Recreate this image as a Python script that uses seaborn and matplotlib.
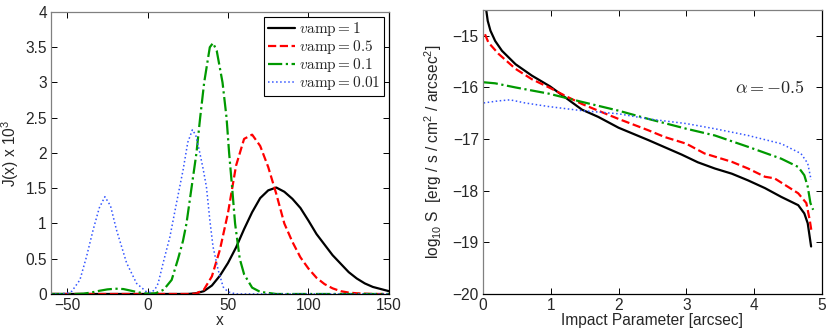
import numpy as np
import pandas as pd
import seaborn as sns
import matplotlib.pyplot as plt
from matplotlib.ticker import FormatStrFormatter

sns.set_theme(style = "ticks")
plt.rcParams['font.family'] = ['Liberation Sans', 'DejaVu Sans']
plt.rcParams['mathtext.fontset'] = 'custom'
plt.rcParams['mathtext.rm'] = 'Liberation Sans'
plt.rcParams['mathtext.it'] = 'Liberation Sans:italic'

# left panel: J(x) for several vamp values
x_v1 = [-60, 25, 30, 35, 40, 45, 50, 55, 60, 65, 70, 75, 80, 85, 90, 95, 100, 105, 110, 115, 120, 125, 130, 135, 140, 145, 150]
j_v1 = [0, 0, 0.01, 0.04, 0.12, 0.26, 0.44, 0.66, 0.92, 1.16, 1.36, 1.47, 1.51, 1.45, 1.35, 1.22, 1.04, 0.85, 0.70, 0.55, 0.43, 0.31, 0.22, 0.15, 0.10, 0.07, 0.04]

x_v05 = [-60, 25, 30, 35, 40, 45, 50, 55, 60, 65, 70, 75, 80, 85, 90, 95, 100, 105, 110, 115, 120, 125, 130, 140, 150]
j_v05 = [0, 0, 0.005, 0.06, 0.25, 0.63, 1.15, 1.82, 2.20, 2.26, 2.10, 1.80, 1.42, 1.00, 0.74, 0.52, 0.36, 0.23, 0.14, 0.08, 0.04, 0.02, 0.01, 0, 0]

x_v01 = [-60, -45, -40, -35, -30, -25, -20, -15, -10, -5, 0, 5, 10, 15, 19, 22, 24.2, 27.3, 30.4, 32.7, 35.2, 38.7,
         40.7, 43, 46.6, 49.1, 50.7, 52.6, 54.4, 57.3, 60, 65, 70, 80, 150]
j_v01 = [0, 0, 0.005, 0.02, 0.045, 0.065, 0.075, 0.07, 0.045, 0.02, 0.005, 0.01, 0.06, 0.2, 0.5, 0.75, 1.0, 1.5, 2.0, 2.5, 3.0, 3.5,
         3.56, 3.45, 3.0, 2.5, 2.0, 1.5, 1.0, 0.5, 0.28, 0.09, 0.03, 0, 0]

x_v001 = [-60, -55, -50, -47, -42, -37.9, -33.8, -30, -26.5, -23, -19.3, -13, -6.8, -0.6, 2, 4.5, 6.6, 9.7, 13.9, 18, 22.1,
          25, 27.9, 30, 32.5, 34.5, 36.6, 38.7, 40.7, 43.9, 47, 50, 55, 150]
j_v001 = [0, 0, 0.01, 0.04, 0.2, 0.53, 0.91, 1.22, 1.38, 1.25, 0.91, 0.44, 0.15, 0.03, 0.02, 0.06, 0.15, 0.44, 0.81, 1.29, 1.76,
          2.15, 2.33, 2.25, 2.0, 1.78, 1.52, 1.05, 0.67, 0.34, 0.10, 0.03, 0, 0]

# right panel: log10 S vs impact parameter
b_v1 = [0.04, 0.05, 0.07, 0.11, 0.18, 0.28, 0.48, 0.72, 0.99, 1.21, 1.46, 1.70, 2.00, 2.44, 2.93, 3.17, 3.42, 3.67, 3.91, 4.16, 4.40, 4.65, 4.74, 4.79, 4.84]
s_v1 = [-14.3, -14.52, -14.71, -14.90, -15.10, -15.29, -15.55, -15.77, -15.98, -16.19, -16.43, -16.57, -16.78, -17.02, -17.30, -17.45,
        -17.57, -17.67, -17.80, -17.95, -18.12, -18.28, -18.44, -18.63, -19.08]

b_v05 = [0.03, 0.08, 0.23, 0.48, 0.72, 0.99, 1.21, 1.46, 1.70, 2.00, 2.44, 2.68, 3.00, 3.27, 3.67, 3.91, 4.16, 4.30, 4.65, 4.77, 4.82, 4.85]
s_v05 = [-14.97, -15.13, -15.35, -15.64, -15.84, -16.01, -16.16, -16.32, -16.45, -16.61, -16.83, -16.96, -17.09, -17.28, -17.44,
         -17.57, -17.73, -17.76, -18.05, -18.24, -18.57, -18.82]

b_v01 = [0.01, 0.18, 0.48, 0.97, 1.46, 2.00, 2.44, 3.00, 3.42, 3.91, 4.40, 4.65, 4.74, 4.79, 4.83, 4.87]
s_v01 = [-15.90, -15.92, -16.00, -16.12, -16.28, -16.45, -16.61, -16.80, -16.93, -17.15, -17.38, -17.54, -17.70, -17.92, -18.24, -18.37]

b_v001 = [0.01, 0.23, 0.40, 0.62, 0.97, 1.46, 2.00, 2.44, 3.00, 3.42, 3.91, 4.40, 4.69, 4.79, 4.84]
s_v001 = [-16.30, -16.26, -16.24, -16.30, -16.37, -16.45, -16.51, -16.61, -16.70, -16.80, -16.93, -17.09, -17.28, -17.47, -17.79]

labels = [r'$v\mathrm{amp} = 1$', r'$v\mathrm{amp} = 0.5$', r'$v\mathrm{amp} = 0.1$', r'$v\mathrm{amp} = 0.01$']
colors = ['black', '#ff0000', '#009900', '#3355ff']
styles = ['-', '--', '-.', ':']
widths = [1.6, 1.6, 1.6, 1.1]

fig = plt.figure(figsize = (8.3, 3.32), dpi = 100)
ax1 = fig.add_axes([0.0614, 0.1145, 0.4072, 0.8494])
ax2 = fig.add_axes([0.5819, 0.1145, 0.4084, 0.8554])

left_data = [(x_v1, j_v1), (x_v05, j_v05), (x_v01, j_v01), (x_v001, j_v001)]
right_data = [(b_v1, s_v1), (b_v05, s_v05), (b_v01, s_v01), (b_v001, s_v001)]

for (xs, ys), lab, c, ls, lw in zip(left_data, labels, colors, styles, widths):
    sns.lineplot(x = xs, y = ys, ax = ax1, color = c, linestyle = ls, linewidth = lw, label = lab)
for (xs, ys), c, ls, lw in zip(right_data, colors, styles, widths):
    sns.lineplot(x = xs, y = ys, ax = ax2, color = c, linestyle = ls, linewidth = lw)

fs = 11.2

ax1.set_xlim(-60, 150)
ax1.set_ylim(0, 4)
ax1.set_xticks([-50, 0, 50, 100, 150])
ax1.set_yticks(np.arange(0, 4.01, 0.5))
ax1.yaxis.set_major_formatter(FormatStrFormatter('%g'))
ax1.set_xlabel('x', fontsize = fs, labelpad = 0)
ax1.set_ylabel(r'J(x) x 10$^3$', fontsize = fs)
ax1.yaxis.set_label_coords(-0.09, 0.5)

leg = ax1.legend(loc = 'upper right', fontsize = 11, frameon = True, fancybox = False, framealpha = 1,
                 edgecolor = 'black', handlelength = 1.8, borderaxespad = 0.3, labelspacing = 0.0,
                 borderpad = 0.25, handletextpad = 0.25)
leg.get_frame().set_linewidth(0.8)
for t in leg.get_texts():
    t.set_math_fontfamily('cm')

ax2.set_xlim(0, 5)
ax2.set_ylim(-20, -14.5)
ax2.set_xticks([0, 1, 2, 3, 4, 5])
ax2.set_yticks([-20, -19, -18, -17, -16, -15])
ax2.set_xlabel('Impact Parameter [arcsec]', fontsize = fs, labelpad = 0)
ax2.set_ylabel(r'log$_{10}$ S  [erg / s / cm$^2$ / arcsec$^2$]', fontsize = fs)
ax2.yaxis.set_label_coords(-0.115, 0.5)
ax2.text(4.23, -16.03, r'$\alpha = -0.5$', fontsize = 13, ha = 'center', va = 'center', math_fontfamily = 'cm')

for ax in (ax1, ax2):
    ax.tick_params(direction = 'in', top = True, right = True, length = 4, width = 0.7,
                   labelsize = fs, pad = 3, color = 'black')
    ax.spines['left'].set_color('#808080')
    ax.spines['top'].set_color('#808080')
    ax.spines['right'].set_color('black')
    ax.spines['bottom'].set_color('black')
    for s in ax.spines.values():
        s.set_linewidth(0.9)
    ax.grid(False)

fig.savefig('out.png', dpi = 100)
